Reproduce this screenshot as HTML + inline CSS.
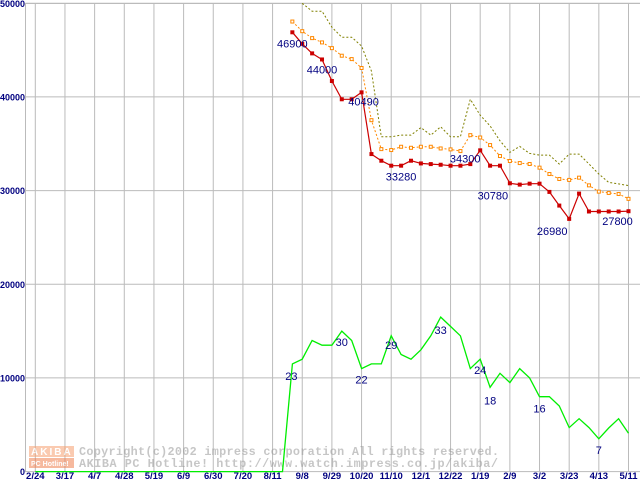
<!DOCTYPE html>
<html><head><meta charset="utf-8"><style>
body{margin:0;background:#fff;}
svg{display:block;font-family:"Liberation Mono",monospace;}
</style></head><body>
<svg id="c" width="640" height="480">
<g id="grid"></g>
<g id="wm" opacity="0.55">
<rect x="29" y="446" width="45" height="11" fill="#f7a070"/>
<text x="31" y="455" font-size="10" font-weight="bold" fill="#fff" letter-spacing="2" font-family="Liberation Sans,sans-serif">AKIBA</text>
<rect x="29" y="458" width="45" height="10" fill="#f08050"/>
<text x="31" y="466" font-size="7" font-weight="bold" fill="#fff" font-family="Liberation Sans,sans-serif">PC Hotline!</text>
<text x="79" y="455" font-size="11.8" fill="#999" font-weight="bold" textLength="420" lengthAdjust="spacing">Copyright(c)2002 impress corporation All rights reserved.</text>
<text x="79" y="467" font-size="11.8" fill="#999" font-weight="bold" textLength="419" lengthAdjust="spacing">AKIBA PC Hotline!  http://www.watch.impress.co.jp/akiba/</text>
</g>
<g id="series"></g>
<g id="labels"></g>
</svg>
<script>
const xTicks=["2/24","3/17","4/7","4/28","5/19","6/9","6/30","7/20","8/11","9/8","9/29","10/20","11/10","12/1","12/22","1/19","2/9","3/2","3/23","4/13","5/11"];
const yTicks=[0,10000,20000,30000,40000,50000];
const minPrice=[46900,45670,44650,44000,41700,39750,39750,40490,33900,33190,32660,32660,33190,32900,32830,32760,32660,32660,32830,34300,32660,32660,30780,30640,30740,30740,29860,28400,26980,29680,27770,27770,27770,27770,27800];
const avgPrice=[48050,47020,46280,45820,45210,44400,44040,43090,37520,34430,34330,34680,34570,34680,34680,34500,34400,34220,35920,35670,34860,33690,33160,32940,32840,32450,31770,31240,31140,31380,30560,29890,29750,29640,29120];
const maxPrice=[50000,49150,49150,47450,46380,46380,45430,42770,35740,35740,35920,35920,36730,35920,36810,35740,35740,39750,38050,36910,35320,34080,34720,33970,33790,33790,32840,33900,33900,32840,31770,30880,30710,30530];
const shops=[0,0,0,0,0,0,0,0,0,0,0,0,0,0,0,0,0,0,0,0,0,0,0,0,0,0,23,24,28,27,27,30,28,22,23,23,29,25,24,26,29,33,31,29,22,24,18,21,19,22,20,16,16,14,9.4,11.3,9.4,7,9.3,11.3,8.2];
const minLabels=[[0,"46900"],[3,"44000"],[7,"40490"],[11,"33280"],[19,"34300"],[22,"30780"],[28,"26980"],[34,"27800"]];
const shopLabels=[[26,"23"],[31,"30"],[33,"22"],[36,"29"],[41,"33"],[45,"24"],[46,"18"],[51,"16"],[57,"7"]];
const minStart=26, avgStart=26, maxStart=27;
const NS="http://www.w3.org/2000/svg";
const X0=35.3, DX=29.66/3, Y0=471.6, KY=281/30000;
const xs=i=>X0+i*DX, ys=v=>Y0-v*KY, yShop=v=>ys(v*500);
function el(t,a,p){const e=document.createElementNS(NS,t);for(const k in a)e.setAttribute(k,a[k]);p.appendChild(e);return e;}
const g=document.getElementById('grid');
const frame=el('rect',{x:25.5,y:3.5,width:640,height:Y0-3.5,fill:'none',stroke:'#bbb'},g);


xTicks.forEach((t,k)=>{const x=xs(k*3);
 const l=el('line',{x1:x,x2:x,y1:3.5,y2:Y0,stroke:'#bbb'},g);
 
 
 const tx=el('text',{x:x,y:479,'font-size':9.5,fill:'#000080','text-anchor':'middle','font-weight':'bold','font-family':'Liberation Sans,sans-serif'},g);tx.textContent=t;
 
 });
yTicks.forEach(v=>{const y=ys(v);
 if(v>0){const l=el('line',{x1:25.5,x2:640,y1:y,y2:y,stroke:'#bbb'},g);
 
 }
 const tx=el('text',{x:25,y:y+3.5,'font-size':9,fill:'#000080','text-anchor':'end','font-weight':'bold','font-family':'Liberation Sans,sans-serif'},g);tx.textContent=v;
 
 });
const s=document.getElementById('series');
function line(arr,start,fy,attrs,name){const pts=arr.map((v,i)=>xs(start+i).toFixed(1)+','+fy(v).toFixed(1)).join(' ');
 const p=el('polyline',Object.assign({points:pts,fill:'none'},attrs),s);
 
 }
line(shops,0,yShop,{stroke:'#00ee00','stroke-width':1.3},'shop-count-line');
line(maxPrice,maxStart,ys,{stroke:'#808000','stroke-dasharray':'2,2'},'max-price-line');
line(avgPrice,avgStart,ys,{stroke:'#ff8800','stroke-dasharray':'2,2'},'avg-price-line');
avgPrice.forEach((v,i)=>{const m=el('rect',{x:xs(avgStart+i)-1.5,y:ys(v)-1.5,width:3,height:3,fill:'#fff',stroke:'#ff8800','stroke-width':1},s);
 
 });
line(minPrice,minStart,ys,{stroke:'#cc0000','stroke-width':1.2},'min-price-line');
minPrice.forEach((v,i)=>{const m=el('rect',{x:xs(minStart+i)-2,y:ys(v)-2,width:4,height:4,fill:'#cc0000'},s);
 
 });
const L=document.getElementById('labels');
const minOff=[[0,15],[0,14],[2,13],[0,15],[-15,12],[-17,16],[-17,16],[-11,14]];
minLabels.forEach(([i,t],k)=>{const x=xs(minStart+i)+minOff[k][0],y=ys(minPrice[i])+minOff[k][1];
 const tx=el('text',{x:x,y:y,'font-size':11,fill:'#000080','text-anchor':'middle','font-family':'Liberation Sans,sans-serif'},L);tx.textContent=t;
 
 });
const shOff=[[-1,16],[0,15],[0,15],[0,13],[0,17],[0,15],[0,17],[0,16],[0,15]];
shopLabels.forEach(([i,t],k)=>{const x=xs(i)+shOff[k][0],y=yShop(shops[i])+shOff[k][1];
 const tx=el('text',{x:x,y:y,'font-size':11,fill:'#000080','text-anchor':'middle','font-family':'Liberation Sans,sans-serif'},L);tx.textContent=t;
 
 });
</script>
</body></html>
